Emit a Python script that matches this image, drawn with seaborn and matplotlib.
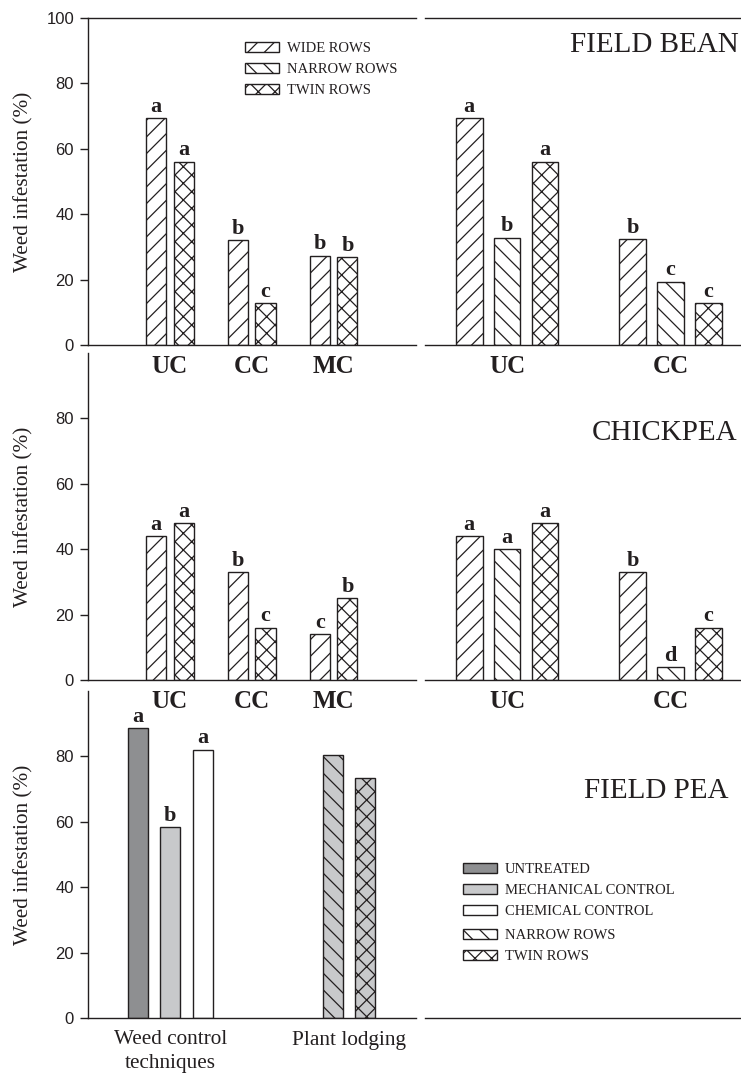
import matplotlib
matplotlib.use("Agg")
import matplotlib.pyplot as plt
from matplotlib.patches import Patch
import pandas as pd
import seaborn as sns

# ---------------- data ----------------
control_groups = ["UC", "CC", "MC"]
row_groups = ["UC", "CC"]

bean_ctrl_wide = [69.4, 32.1, 27.3]
bean_ctrl_twin = [56.0, 12.8, 26.8]
bean_ctrl_let_wide = ["a", "b", "b"]
bean_ctrl_let_twin = ["a", "c", "b"]

bean_rows_wide = [69.4, 32.3]
bean_rows_narrow = [32.8, 19.4]
bean_rows_twin = [56.0, 12.8]
bean_rows_let_wide = ["a", "b"]
bean_rows_let_narrow = ["b", "c"]
bean_rows_let_twin = ["a", "c"]

chick_ctrl_wide = [44.0, 33.0, 14.0]
chick_ctrl_twin = [48.0, 16.0, 25.0]
chick_ctrl_let_wide = ["a", "b", "c"]
chick_ctrl_let_twin = ["a", "c", "b"]

chick_rows_wide = [44.0, 33.0]
chick_rows_narrow = [40.0, 4.0]
chick_rows_twin = [48.0, 16.0]
chick_rows_let_wide = ["a", "b"]
chick_rows_let_narrow = ["a", "d"]
chick_rows_let_twin = ["a", "c"]

pea_treatments = ["UNTREATED", "MECHANICAL CONTROL", "CHEMICAL CONTROL",
                  "NARROW ROWS", "TWIN ROWS"]
pea_values = [88.7, 58.3, 82.1, 80.4, 73.5]
pea_letters = ["a", "b", "a", "", ""]
pea_group_labels = ["Weed control\ntechniques", "Plant lodging"]

y_ticks_top = [0, 20, 40, 60, 80, 100]
y_ticks_low = [0, 20, 40, 60, 80]

# ---------------- style ----------------
sns.set_style("ticks")
SERIF = "Liberation Serif"
SANS = "Liberation Sans"
INK = "#231f20"
plt.rcParams["font.family"] = [SANS, "DejaVu Sans"]
plt.rcParams["hatch.linewidth"] = 0.9
plt.rcParams["axes.edgecolor"] = INK
plt.rcParams["xtick.color"] = INK
plt.rcParams["ytick.color"] = INK

HATCH = {"WIDE ROWS": "//", "NARROW ROWS": "\\\\", "TWIN ROWS": "xx"}
PEA_FILL = {"UNTREATED": "#8e8f91", "MECHANICAL CONTROL": "#c8c9cb",
            "CHEMICAL CONTROL": "#ffffff", "NARROW ROWS": "#c8c9cb",
            "TWIN ROWS": "#c8c9cb"}

W, H = 741, 1073
fig = plt.figure(figsize=(W / 100, H / 100), dpi=100)


def rect(x0, top, w, h):
    return [x0 / W, 1 - (top + h) / H, w / W, h / H]


LX, LW = 88, 327.5
RX, RW = 425, 316
ROWS_TOP = [18, 353, 691]
PH = 327

letter_kw = dict(fontsize=16, fontweight="bold", family=SERIF, color=INK, padding=1)


def new_axes(x0, top, w):
    ax = fig.add_axes(rect(x0, top, w, PH))
    ax.set_facecolor("none")
    return ax


def style_left(ax, ticks, top_spine):
    ax.set_ylim(0, 100)
    ax.set_yticks(ticks)
    ax.tick_params(axis="y", length=6, width=1, pad=4, labelsize=12, direction="out")
    ax.tick_params(axis="x", length=0, pad=7)
    ax.spines["right"].set_visible(False)
    ax.spines["top"].set_visible(top_spine)
    for s in ax.spines.values():
        s.set_linewidth(1)
    ax.set_ylabel("Weed infestation (%)", family=SERIF, fontsize=15.3, color=INK)
    ax.yaxis.set_label_coords(-0.165, 0.5)
    ax.set_xlabel("")


def style_right(ax, top_spine):
    ax.set_ylim(0, 100)
    ax.set_yticks([])
    ax.spines["left"].set_visible(False)
    ax.spines["right"].set_visible(False)
    ax.spines["top"].set_visible(top_spine)
    for s in ax.spines.values():
        s.set_linewidth(1)
    ax.tick_params(axis="x", length=0, pad=7)
    ax.set_ylabel("")
    ax.set_xlabel("")


def bold_xlabels(ax):
    for t in ax.get_xticklabels():
        t.set_fontfamily(SERIF)
        t.set_fontweight("bold")
        t.set_fontsize(18)
        t.set_color(INK)


def control_panel(ax, wide, twin, lw, lt):
    df = pd.DataFrame({
        "control": control_groups * 2,
        "rows": ["WIDE ROWS"] * len(wide) + ["TWIN ROWS"] * len(twin),
        "value": wide + twin,
    })
    sns.barplot(data=df, x="control", y="value", hue="rows", order=control_groups,
                hue_order=["WIDE ROWS", "TWIN ROWS"], palette=["white", "white"],
                saturation=1, width=0.673, gap=0.27, edgecolor=INK, linewidth=1,
                errorbar=None, legend=False, ax=ax)
    for cont, key, labs in zip(ax.containers, ["WIDE ROWS", "TWIN ROWS"], [lw, lt]):
        for bar in cont:
            bar.set_hatch(HATCH[key])
        ax.bar_label(cont, labels=labs, **letter_kw)
    ax.set_xlim(-1, 3)
    bold_xlabels(ax)


def rows_panel(ax, wide, narrow, twin, lw, ln, lt):
    keys = ["WIDE ROWS", "NARROW ROWS", "TWIN ROWS"]
    df = pd.DataFrame({
        "control": row_groups * 3,
        "rows": [keys[0]] * 2 + [keys[1]] * 2 + [keys[2]] * 2,
        "value": wide + narrow + twin,
    })
    sns.barplot(data=df, x="control", y="value", hue="rows", order=row_groups,
                hue_order=keys, palette=["white"] * 3, saturation=1,
                width=0.697, gap=0.29, edgecolor=INK, linewidth=1,
                errorbar=None, legend=False, ax=ax)
    for cont, key, labs in zip(ax.containers, keys, [lw, ln, lt]):
        for bar in cont:
            bar.set_hatch(HATCH[key])
        ax.bar_label(cont, labels=labs, **letter_kw)
    ax.set_xlim(-0.5015, 1.431)
    bold_xlabels(ax)


# ---------------- row 1: FIELD BEAN ----------------
ax1 = new_axes(LX, ROWS_TOP[0], LW)
control_panel(ax1, bean_ctrl_wide, bean_ctrl_twin, bean_ctrl_let_wide, bean_ctrl_let_twin)
style_left(ax1, y_ticks_top, True)

ax2 = new_axes(RX, ROWS_TOP[0], RW)
rows_panel(ax2, bean_rows_wide, bean_rows_narrow, bean_rows_twin,
           bean_rows_let_wide, bean_rows_let_narrow, bean_rows_let_twin)
style_right(ax2, True)

# ---------------- row 2: CHICKPEA ----------------
ax3 = new_axes(LX, ROWS_TOP[1], LW)
control_panel(ax3, chick_ctrl_wide, chick_ctrl_twin, chick_ctrl_let_wide, chick_ctrl_let_twin)
style_left(ax3, y_ticks_low, False)

ax4 = new_axes(RX, ROWS_TOP[1], RW)
rows_panel(ax4, chick_rows_wide, chick_rows_narrow, chick_rows_twin,
           chick_rows_let_wide, chick_rows_let_narrow, chick_rows_let_twin)
style_right(ax4, False)

# ---------------- row 3: FIELD PEA ----------------
ax5 = new_axes(LX, ROWS_TOP[2], LW)
spacers = [" ", "  ", "   "]
pea_order = pea_treatments[:3] + spacers + pea_treatments[3:]
df_pea = pd.DataFrame({"treatment": pea_treatments, "value": pea_values})
sns.barplot(data=df_pea, x="treatment", y="value", hue="treatment", order=pea_order,
            hue_order=pea_treatments, palette=PEA_FILL, saturation=1, dodge=False,
            width=0.615, edgecolor=INK, linewidth=1, errorbar=None, legend=False, ax=ax5)
for cont, key, lab in zip(ax5.containers, pea_treatments, pea_letters):
    for bar in cont:
        if key in HATCH:
            bar.set_hatch(HATCH[key])
    ax5.bar_label(cont, labels=[lab] * len(cont), **letter_kw)
ax5.set_xlim(-1.532, 8.544)
ax5.set_xticks([1, 6.5], pea_group_labels)
style_left(ax5, y_ticks_low, False)
ax5.tick_params(axis="x", pad=9)
for t in ax5.get_xticklabels():
    t.set_fontfamily(SERIF)
    t.set_fontsize(15.3)
    t.set_color(INK)
    t.set_linespacing(1.35)

ax6 = new_axes(RX, ROWS_TOP[2], RW)
ax6.set_xticks([])
style_right(ax6, False)

# ---------------- titles ----------------
title_kw = dict(family=SERIF, fontsize=21, color=INK, ha="right", va="baseline")
fig.text(739 / W, 1 - 52.3 / H, "FIELD BEAN", **title_kw)
fig.text(737 / W, 1 - 440 / H, "CHICKPEA", **title_kw)
fig.text(728 / W, 1 - 798.3 / H, "FIELD PEA", **title_kw)

# ---------------- legends ----------------
leg_kw = dict(frameon=False, borderpad=0, borderaxespad=0, handlelength=2.33,
              handleheight=0.62, handletextpad=0.55, labelspacing=0.55,
              prop={"family": SERIF, "size": 10.5}, loc="upper left",
              bbox_transform=fig.transFigure)

rows_handles = [Patch(facecolor="white", edgecolor=INK, linewidth=1, hatch=HATCH[k])
                for k in ["WIDE ROWS", "NARROW ROWS", "TWIN ROWS"]]
leg1 = ax1.legend(rows_handles, ["WIDE ROWS", "NARROW ROWS", "TWIN ROWS"],
                  bbox_to_anchor=(245 / W, 1 - 42 / H), **leg_kw)
for t in leg1.get_texts():
    t.set_color(INK)

pea_handles_a = [Patch(facecolor=PEA_FILL[k], edgecolor=INK, linewidth=1)
                 for k in pea_treatments[:3]]
leg2 = ax6.legend(pea_handles_a, pea_treatments[:3],
                  bbox_to_anchor=(463 / W, 1 - 863 / H), **leg_kw)
ax6.add_artist(leg2)
pea_handles_b = [Patch(facecolor="white", edgecolor=INK, linewidth=1, hatch=HATCH[k])
                 for k in pea_treatments[3:]]
leg3 = ax6.legend(pea_handles_b, pea_treatments[3:],
                  bbox_to_anchor=(463 / W, 1 - 929 / H), **leg_kw)
for lg in (leg2, leg3):
    for t in lg.get_texts():
        t.set_color(INK)

fig.savefig("out.png", dpi=100)
